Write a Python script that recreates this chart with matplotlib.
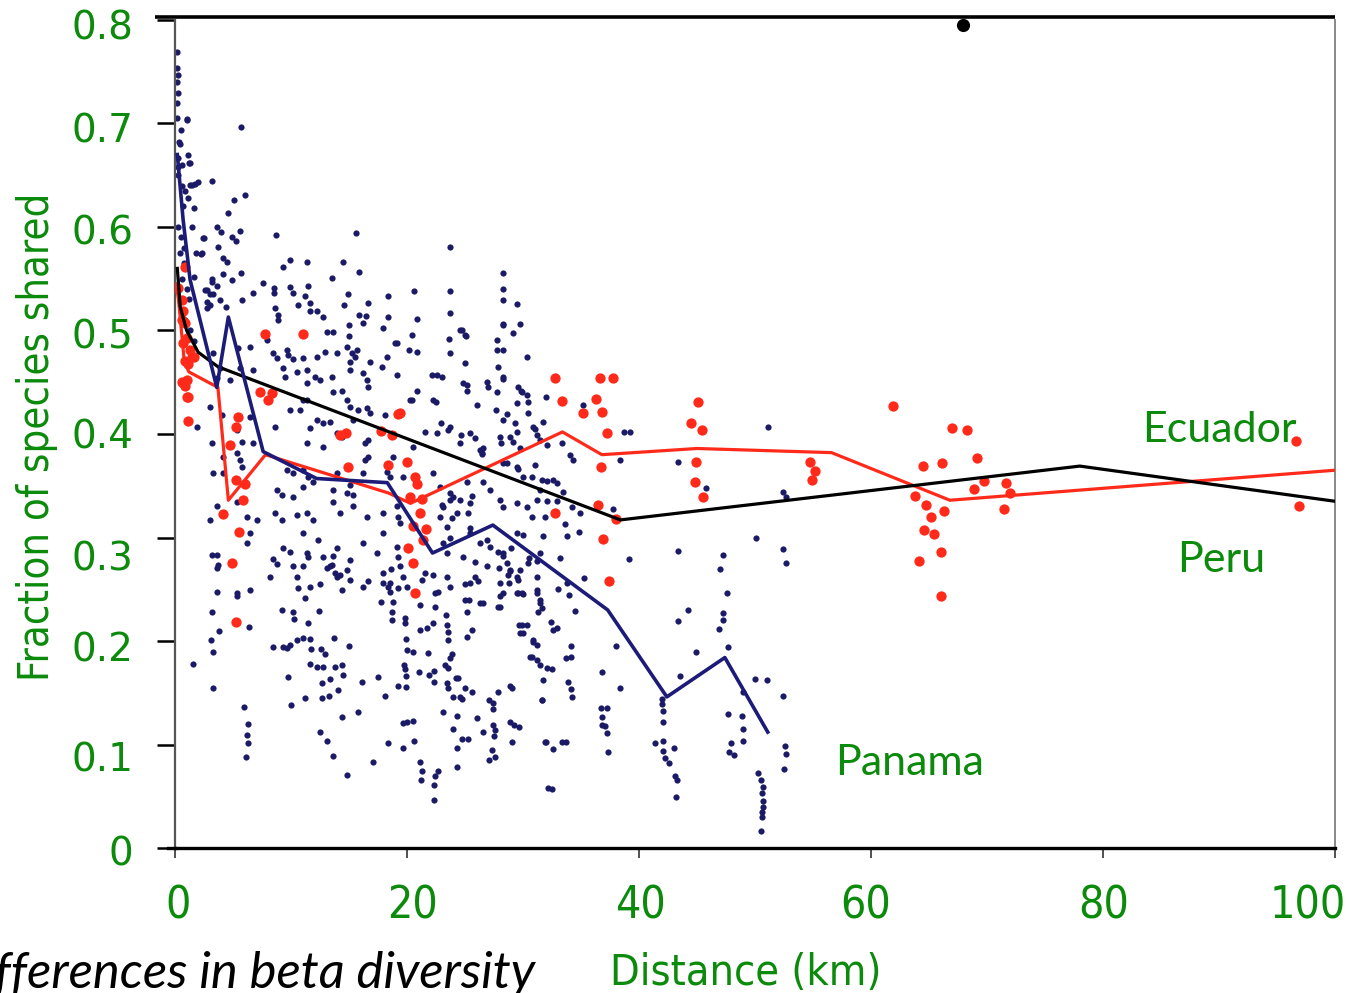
import numpy as np
import matplotlib.pyplot as plt
from matplotlib import transforms

GREEN = '#0b8a0b'
NAVY = '#1c1c78'
DOT = '#1a1a66'
RED = '#ff2a1a'

# mean curves (distance km, fraction shared)
black_x = [0.2, 0.45, 1.0, 2.0, 3.7, 38.4, 78.0, 100.0]
black_y = [0.56, 0.523, 0.50, 0.479, 0.465, 0.317, 0.369, 0.335]

red_x = [0.1, 0.3, 0.8, 1.2, 3.7, 4.6, 7.8, 18.4, 20.3, 33.4, 36.8, 45.0, 56.6, 66.8, 100.0]
red_y = [0.545, 0.53, 0.47, 0.46, 0.445, 0.336, 0.380, 0.343, 0.333, 0.402, 0.380, 0.386, 0.382, 0.336, 0.365]

blue_x = [0.2, 0.7, 1.3, 3.6, 4.6, 7.6, 12.2, 18.3, 22.2, 27.4, 37.3, 42.4, 47.4, 51.1]
blue_y = [0.67, 0.607, 0.549, 0.445, 0.513, 0.383, 0.357, 0.353, 0.285, 0.312, 0.230, 0.146, 0.184, 0.112]

# Ecuador / Peru site pairs (red)
red_pts = [
    (32.8, 0.454), (36.6, 0.454), (37.8, 0.454), (33.4, 0.432), (36.3, 0.434), (35.2, 0.420),
    (36.8, 0.421), (37.2, 0.401), (45.1, 0.431), (44.5, 0.411), (45.4, 0.404), (44.9, 0.373),
    (44.8, 0.354), (45.5, 0.339), (36.7, 0.368), (36.5, 0.331), (32.8, 0.324), (38.0, 0.318),
    (36.9, 0.299), (37.4, 0.258), (54.7, 0.373), (55.2, 0.364), (54.9, 0.356),
    (19.4, 0.420), (20.0, 0.373), (20.7, 0.358), (20.9, 0.352), (20.3, 0.339), (21.3, 0.337),
    (21.1, 0.324), (20.5, 0.311), (21.6, 0.308), (21.4, 0.298), (20.1, 0.290), (20.5, 0.275),
    (20.7, 0.246),
    (61.9, 0.427), (67.0, 0.406), (68.3, 0.404), (64.5, 0.369), (66.1, 0.372), (69.1, 0.377),
    (69.7, 0.355), (68.9, 0.347), (71.6, 0.353), (72.0, 0.343), (71.5, 0.328), (63.8, 0.340),
    (64.7, 0.331), (66.3, 0.326), (65.2, 0.320), (64.6, 0.307), (65.4, 0.303), (66.0, 0.286),
    (64.1, 0.277), (66.0, 0.243), (96.6, 0.393), (96.9, 0.330),
    (7.8, 0.497), (11.0, 0.497), (7.3, 0.441), (8.0, 0.433), (8.4, 0.440), (19.2, 0.419),
    (14.2, 0.399), (14.7, 0.401), (17.8, 0.403), (18.7, 0.399), (14.9, 0.368), (18.4, 0.370),
    (5.4, 0.416), (5.3, 0.407), (4.7, 0.389), (5.3, 0.356), (6.0, 0.352), (5.9, 0.336),
    (4.1, 0.323), (5.5, 0.305), (4.9, 0.275), (5.3, 0.218),
    (1.1, 0.413), (1.0, 0.436), (0.7, 0.449), (1.0, 0.452), (1.1, 0.468), (1.5, 0.474),
    (0.7, 0.488), (0.6, 0.510), (0.3, 0.541), (0.6, 0.529), (0.7, 0.519), (0.9, 0.507),
    (1.0, 0.493), (1.3, 0.481), (0.9, 0.471), (1.6, 0.474), (0.6, 0.450), (0.9, 0.446),
    (1.1, 0.436), (0.9, 0.561),
]

# Panama site pairs (navy), upper part
panama_top = [
    (0.2, 0.769), (0.2, 0.754), (0.3, 0.747), (0.3, 0.729), (0.2, 0.705), (1.0, 0.703), (0.5, 0.694),
    (0.35, 0.682), (0.3, 0.667), (1.1, 0.670), (1.2, 0.662), (0.3, 0.658), (1.7, 0.642), (1.3, 0.641),
    (3.2, 0.644), (1.1, 0.628), (1.6, 0.618), (5.1, 0.626), (6.0, 0.631), (5.7, 0.697), (4.6, 0.614),
    (1.5, 0.600), (3.6, 0.600), (4.0, 0.595), (2.4, 0.589), (4.9, 0.590), (5.3, 0.586), (5.6, 0.596),
    (3.7, 0.581), (8.7, 0.592), (15.6, 0.594), (2.3, 0.575), (4.1, 0.570), (4.5, 0.566), (9.9, 0.568),
    (11.4, 0.566), (14.5, 0.566), (9.3, 0.561), (15.9, 0.557), (13.5, 0.551), (23.7, 0.581),
    (28.3, 0.556), (1.6, 0.552), (4.1, 0.555), (5.7, 0.556), (4.9, 0.549), (3.2, 0.547), (3.6, 0.543),
    (7.6, 0.546), (2.8, 0.539), (3.3, 0.535), (6.7, 0.536), (8.5, 0.541), (8.5, 0.536), (9.9, 0.542),
    (10.2, 0.536), (11.5, 0.543), (11.2, 0.533), (14.9, 0.535), (18.4, 0.533), (20.6, 0.538),
    (23.7, 0.538), (28.3, 0.540), (5.8, 0.529), (2.8, 0.528), (3.0, 0.525), (3.9, 0.529), (10.6, 0.525),
    (11.6, 0.527), (11.6, 0.519), (12.2, 0.519), (12.8, 0.513), (8.6, 0.522), (8.9, 0.515), (8.9, 0.510),
    (14.6, 0.525), (16.6, 0.527), (15.9, 0.515), (16.2, 0.507), (16.5, 0.514), (18.4, 0.513),
    (20.9, 0.511), (15.0, 0.505), (23.7, 0.517), (28.3, 0.529), (29.5, 0.526), (28.3, 0.506),
    (29.1, 0.498), (29.7, 0.506), (24.6, 0.500), (25.0, 0.496), (17.9, 0.502), (20.4, 0.496),
    (13.1, 0.499), (13.6, 0.499), (15.0, 0.495), (7.9, 0.491), (19.0, 0.488), (23.6, 0.492),
    (27.8, 0.491),
    (1.0, 0.704), (1.3, 0.662), (1.5, 0.641), (2.0, 0.643), (1.8, 0.575), (2.2, 0.574), (2.5, 0.589),
    (3.2, 0.550), (2.6, 0.539), (3.0, 0.535), (2.8, 0.522), (4.4, 0.523), (0.3, 0.60), (0.5, 0.59),
    (0.4, 0.575), (0.8, 0.565), (0.6, 0.55), (1.0, 0.54), (0.5, 0.52), (0.9, 0.51), (1.3, 0.50),
    (1.6, 0.49), (0.7, 0.62), (0.9, 0.635), (0.3, 0.65), (0.6, 0.64), (0.4, 0.68), (0.2, 0.72),
    (0.6, 0.66), (0.2, 0.74), (0.8, 0.58), (1.2, 0.53),
]

# Panama, middle band
panama_mid = [
    (3.28, 0.478), (3.88, 0.464), (5.43, 0.483), (6.47, 0.484), (8.45, 0.478), (8.79, 0.473),
    (9.66, 0.481), (9.74, 0.476), (10.17, 0.472), (11.03, 0.473), (12.24, 0.474), (12.93, 0.479),
    (13.97, 0.478), (14.83, 0.484), (15.26, 0.478), (15.09, 0.470), (15.69, 0.481), (15.52, 0.474),
    (16.81, 0.470), (18.28, 0.474), (19.14, 0.488), (20.86, 0.479), (23.71, 0.478), (25.0, 0.469),
    (27.84, 0.465), (28.28, 0.481), (30.34, 0.474),
    (3.62, 0.454), (4.74, 0.452), (5.6, 0.464), (6.72, 0.462), (9.31, 0.464), (9.48, 0.455),
    (10.52, 0.460), (11.38, 0.462), (12.07, 0.455), (12.5, 0.452), (13.53, 0.455), (15.09, 0.462),
    (16.21, 0.459), (16.55, 0.452), (17.84, 0.465), (19.14, 0.457), (22.59, 0.457), (24.83, 0.449),
    (25.17, 0.442), (26.9, 0.450), (28.28, 0.455), (29.57, 0.445), (29.91, 0.441), (30.34, 0.438),
    (11.38, 0.449), (13.62, 0.441), (14.4, 0.442), (16.64, 0.445), (20.86, 0.442), (20.26, 0.433),
    (3.02, 0.426), (1.9, 0.407), (4.05, 0.418), (5.34, 0.404), (5.78, 0.392), (6.47, 0.416),
    (6.72, 0.391), (3.19, 0.391), (8.62, 0.407), (9.91, 0.423), (10.78, 0.423), (11.03, 0.433),
    (11.38, 0.433), (12.24, 0.414), (12.76, 0.411), (13.36, 0.412), (11.64, 0.406), (14.83, 0.433),
    (15.09, 0.426), (15.78, 0.423), (16.55, 0.425), (16.81, 0.420), (18.1, 0.418), (13.97, 0.401),
    (14.4, 0.397), (15.34, 0.414), (11.38, 0.391), (12.76, 0.387), (16.38, 0.391), (16.64, 0.394),
    (20.52, 0.387), (22.59, 0.401), (23.71, 0.407), (25.43, 0.401), (25.86, 0.396), (28.02, 0.397),
    (28.28, 0.414), (29.48, 0.402), (30.86, 0.407), (31.47, 0.394), (26.55, 0.386),
    (3.28, 0.362), (4.14, 0.362), (5.34, 0.382), (5.6, 0.375), (5.78, 0.368), (4.14, 0.378),
    (9.66, 0.365), (10.17, 0.362), (11.03, 0.365), (11.47, 0.358), (11.9, 0.354), (13.97, 0.362),
    (15.09, 0.351), (16.21, 0.362), (16.38, 0.375), (16.64, 0.378), (18.28, 0.363), (18.53, 0.358),
    (18.79, 0.378), (19.66, 0.358), (22.24, 0.362), (22.84, 0.349), (23.71, 0.343), (23.97, 0.339),
    (25.17, 0.354), (26.47, 0.382), (28.28, 0.372), (29.48, 0.368), (30.0, 0.358), (31.03, 0.370),
    (8.79, 0.346), (9.22, 0.341), (10.17, 0.339), (11.03, 0.349), (13.62, 0.346), (14.83, 0.343),
    (15.34, 0.341),
    (3.62, 0.330), (3.02, 0.317), (4.14, 0.324), (5.34, 0.334), (6.21, 0.320), (7.07, 0.317),
    (8.62, 0.324), (9.22, 0.317), (10.52, 0.322), (11.38, 0.324), (11.9, 0.317), (13.62, 0.334),
    (14.22, 0.324), (15.34, 0.330), (16.55, 0.320), (17.93, 0.324), (19.14, 0.330), (19.22, 0.320),
    (19.4, 0.314), (23.02, 0.331), (23.71, 0.336), (24.31, 0.324), (25.43, 0.333), (25.26, 0.324),
    (28.02, 0.336), (28.28, 0.329), (29.48, 0.333), (30.34, 0.329), (31.21, 0.336),
    (6.21, 0.295), (6.47, 0.304), (9.31, 0.290), (9.91, 0.286), (11.03, 0.304), (11.38, 0.285),
    (12.33, 0.298), (12.76, 0.281), (13.97, 0.290), (15.09, 0.278), (16.21, 0.295), (17.41, 0.285),
    (17.93, 0.304), (19.14, 0.291), (19.22, 0.281), (19.4, 0.272), (23.1, 0.295), (23.45, 0.285),
    (24.83, 0.281), (25.43, 0.304), (26.9, 0.298), (27.16, 0.291), (28.28, 0.285), (28.62, 0.275),
    (29.48, 0.304), (31.47, 0.285),
    (3.62, 0.271), (5.34, 0.246), (6.47, 0.249), (8.19, 0.262), (10.17, 0.272), (10.52, 0.262),
    (11.64, 0.252), (13.36, 0.272), (13.79, 0.266), (15.09, 0.259), (16.21, 0.252), (17.93, 0.266),
    (18.53, 0.256), (19.66, 0.262), (20.0, 0.252), (23.45, 0.262), (23.71, 0.252), (25.43, 0.256),
    (26.9, 0.272), (28.02, 0.256), (28.28, 0.246), (29.48, 0.262), (31.21, 0.249),
    (28.28, 0.505), (27.76, 0.481), (20.17, 0.481), (24.74, 0.500), (25.09, 0.495), (22.16, 0.457),
    (23.02, 0.455), (25.17, 0.447), (26.98, 0.445), (28.28, 0.453), (20.43, 0.433), (22.24, 0.433),
    (22.5, 0.431), (27.76, 0.441), (29.83, 0.442), (30.43, 0.431), (30.43, 0.420), (29.48, 0.430),
    (26.03, 0.428), (28.62, 0.419), (29.31, 0.411), (27.67, 0.423), (32.0, 0.436), (31.7, 0.412),
    (35.2, 0.428), (21.55, 0.402), (22.93, 0.411), (23.53, 0.404), (24.66, 0.399), (24.57, 0.391),
    (26.29, 0.385), (26.47, 0.381), (28.1, 0.391), (28.88, 0.397), (29.14, 0.392), (29.74, 0.386),
    (31.03, 0.405), (31.21, 0.399), (32.07, 0.389), (33.4, 0.391), (34.05, 0.380), (34.31, 0.375),
    (38.7, 0.402), (39.2, 0.402), (38.4, 0.375), (43.4, 0.373), (51.1, 0.407), (45.8, 0.348),
    (52.4, 0.344), (52.7, 0.339),
    (29.57, 0.366), (28.62, 0.372), (30.78, 0.358), (31.64, 0.356), (32.07, 0.355), (32.59, 0.356),
    (32.93, 0.353), (31.47, 0.346), (32.07, 0.335), (32.93, 0.335), (33.45, 0.344), (34.22, 0.329),
    (34.91, 0.324), (33.62, 0.313), (34.83, 0.305), (37.8, 0.328), (30.0, 0.302), (31.72, 0.301),
    (33.79, 0.301), (25.43, 0.309), (23.71, 0.300), (26.29, 0.295), (28.97, 0.290), (30.78, 0.320),
    (31.9, 0.320), (26.55, 0.354), (27.16, 0.346), (25.6, 0.340), (24.57, 0.336), (23.1, 0.329),
    (22.84, 0.320), (23.88, 0.319), (23.45, 0.310), (39.1, 0.279), (43.4, 0.287), (47.2, 0.283),
    (50.1, 0.300), (52.4, 0.289), (52.7, 0.275), (47.0, 0.270), (47.6, 0.246), (27.84, 0.286),
    (25.86, 0.276), (33.19, 0.280), (30.52, 0.280), (31.21, 0.277), (28.71, 0.264), (29.57, 0.259),
]

# Panama, lower band
panama_low = [
    (3.19, 0.283), (3.62, 0.283), (3.71, 0.273), (3.62, 0.247), (5.34, 0.243), (3.19, 0.228),
    (3.79, 0.210), (3.1, 0.201), (3.28, 0.189), (6.38, 0.214), (1.55, 0.178), (3.28, 0.155),
    (5.95, 0.136), (6.29, 0.120), (6.21, 0.109), (6.29, 0.101), (6.12, 0.088),
    (8.45, 0.279), (8.79, 0.274), (11.03, 0.272), (13.1, 0.271), (13.53, 0.273), (13.62, 0.282),
    (11.47, 0.281), (14.83, 0.269), (13.97, 0.262), (14.22, 0.264), (12.5, 0.255), (10.6, 0.251),
    (11.21, 0.242), (14.4, 0.249), (16.64, 0.258), (9.22, 0.230), (10.17, 0.228), (10.26, 0.221),
    (12.41, 0.229), (11.47, 0.217),
    (8.45, 0.194), (9.31, 0.194), (9.91, 0.196), (10.52, 0.201), (11.03, 0.203), (11.64, 0.202),
    (9.66, 0.193), (13.71, 0.203), (15.0, 0.195), (11.72, 0.192), (12.59, 0.192), (12.93, 0.187),
    (11.64, 0.178), (12.24, 0.175), (12.76, 0.175), (13.79, 0.175), (14.4, 0.177), (14.48, 0.167),
    (9.74, 0.165), (13.36, 0.163), (12.67, 0.159), (10.0, 0.138), (11.21, 0.145), (12.67, 0.145),
    (13.28, 0.147), (14.05, 0.153), (14.4, 0.127), (15.78, 0.131), (12.5, 0.112), (13.1, 0.103),
    (13.62, 0.089), (14.83, 0.071),
    (16.12, 0.160), (17.5, 0.165), (18.1, 0.147), (19.22, 0.157), (19.91, 0.156), (19.66, 0.121),
    (20.0, 0.122), (20.52, 0.123), (18.36, 0.101), (19.66, 0.097), (20.6, 0.103), (21.12, 0.083),
    (21.29, 0.074), (21.21, 0.066), (22.67, 0.074), (22.41, 0.070), (22.33, 0.061), (22.33, 0.046),
    (17.07, 0.083),
    (17.93, 0.256), (18.36, 0.252), (18.62, 0.270), (18.53, 0.247), (19.22, 0.251), (17.76, 0.238),
    (18.79, 0.238), (18.71, 0.228), (18.71, 0.220), (19.83, 0.222), (19.83, 0.217), (19.91, 0.202),
    (20.0, 0.191), (20.52, 0.189), (19.74, 0.177), (19.83, 0.173), (19.91, 0.166), (21.03, 0.170),
    (21.81, 0.188), (21.12, 0.211), (21.72, 0.213), (21.12, 0.235), (21.55, 0.266), (22.24, 0.264),
    (22.41, 0.246), (21.29, 0.259), (22.41, 0.233), (22.67, 0.247), (22.24, 0.217), (21.9, 0.167),
    (22.33, 0.171), (22.33, 0.160), (23.1, 0.131),
    (23.36, 0.225), (23.45, 0.215), (23.53, 0.209), (23.53, 0.201), (23.88, 0.187), (23.71, 0.184),
    (23.28, 0.177), (23.53, 0.174), (23.45, 0.159), (23.53, 0.155), (23.97, 0.146), (24.22, 0.164),
    (24.4, 0.164), (24.31, 0.128), (24.57, 0.146), (24.74, 0.144), (23.97, 0.115), (24.74, 0.105),
    (25.26, 0.105), (24.31, 0.097), (24.31, 0.078), (25.0, 0.155), (25.6, 0.151), (26.03, 0.126),
    (26.55, 0.112), (27.07, 0.143), (27.41, 0.140), (27.41, 0.134), (27.84, 0.151), (27.41, 0.119),
    (27.59, 0.114), (27.5, 0.108), (27.33, 0.095), (27.59, 0.088), (27.07, 0.085), (28.88, 0.157),
    (29.05, 0.155), (28.88, 0.122), (29.22, 0.119), (29.66, 0.117), (29.05, 0.102),
    (25.6, 0.211), (25.17, 0.204), (25.0, 0.240), (25.34, 0.240), (25.17, 0.228), (25.0, 0.255),
    (25.86, 0.262), (26.12, 0.258), (26.29, 0.237), (26.55, 0.237), (28.02, 0.243), (27.84, 0.233),
    (27.93, 0.271), (28.28, 0.282), (28.88, 0.269), (28.79, 0.256), (29.48, 0.246), (29.91, 0.246),
    (31.21, 0.246), (29.66, 0.215), (30.34, 0.215), (30.86, 0.201), (31.21, 0.196), (30.6, 0.185),
    (31.21, 0.182), (31.47, 0.177), (30.0, 0.208), (31.64, 0.232), (31.29, 0.228), (31.47, 0.240),
    (32.07, 0.174), (31.64, 0.143), (31.9, 0.102), (32.16, 0.058),
    (35.3, 0.261), (34.0, 0.244), (34.5, 0.229), (44.2, 0.230), (43.4, 0.219), (47.2, 0.227),
    (47.2, 0.220), (46.9, 0.212), (47.7, 0.194), (44.9, 0.189), (38.0, 0.195), (36.8, 0.170),
    (38.4, 0.155), (43.5, 0.166), (42.0, 0.144), (42.0, 0.139), (42.1, 0.132), (42.1, 0.122),
    (50.0, 0.163), (51.0, 0.162), (52.4, 0.147), (49.0, 0.151), (47.7, 0.129), (48.9, 0.128),
    (49.0, 0.115), (49.0, 0.103), (47.9, 0.101), (47.8, 0.093), (48.2, 0.090), (36.7, 0.135),
    (37.2, 0.135), (36.8, 0.127), (36.8, 0.119), (37.1, 0.118), (37.2, 0.111), (37.3, 0.093),
    (41.4, 0.101), (42.1, 0.103), (42.1, 0.094), (42.2, 0.087), (43.0, 0.097), (42.6, 0.082),
    (43.1, 0.070), (43.3, 0.066), (43.2, 0.049), (50.3, 0.072), (50.5, 0.066), (50.7, 0.059),
    (50.6, 0.053), (50.7, 0.045), (50.7, 0.040), (50.6, 0.035), (50.6, 0.030), (50.5, 0.016),
    (52.6, 0.099), (52.7, 0.091), (52.5, 0.076), (32.5, 0.057), (32.6, 0.096), (32.0, 0.102),
    (33.4, 0.102), (33.7, 0.102), (34.1, 0.154), (34.2, 0.146), (33.9, 0.160), (31.7, 0.162),
    (31.6, 0.143), (32.5, 0.173), (30.8, 0.185), (30.9, 0.199), (32.4, 0.218), (32.6, 0.211),
    (32.9, 0.213), (34.1, 0.195), (34.1, 0.185), (33.7, 0.184), (29.9, 0.215), (29.7, 0.208),
    (31.5, 0.237), (29.7, 0.269), (30.4, 0.275), (31.2, 0.262), (33.0, 0.250), (33.8, 0.256),
    (28.0, 0.233), (28.9, 0.268), (29.6, 0.246), (30.0, 0.245),
]

# stray ink blot on the scan
blot = (67.9, 0.795)

xticks = [0, 20, 40, 60, 80, 100]
yticks = [0, 0.1, 0.2, 0.3, 0.4, 0.5, 0.6, 0.7, 0.8]
ytick_labels = ['0', '0.1', '0.2', '0.3', '0.4', '0.5', '0.6', '0.7', '0.8']

fig = plt.figure(figsize=(13.51, 9.93), dpi=100)
ax = fig.add_axes([175 / 1351, 145 / 993, 1160 / 1351, 828 / 993])

pan = np.array(panama_top + panama_mid + panama_low)
ax.scatter(pan[:, 0], pan[:, 1], s=20, color=DOT, linewidths=0, zorder=2)
rp = np.array(red_pts)
ax.scatter(rp[:, 0], rp[:, 1], s=55, color=RED, linewidths=0, zorder=3)

ax.plot(red_x, red_y, color=RED, lw=2.3, zorder=4)
ax.plot(black_x, black_y, color='black', lw=2.3, zorder=5)
ax.plot(blue_x, blue_y, color=NAVY, lw=2.6, zorder=6)
ax.scatter([blot[0]], [blot[1]], s=90, color='black', linewidths=0, clip_on=False, zorder=7)

ax.set_xlim(0, 100)
ax.set_ylim(0, 0.8)

ax.spines['top'].set_visible(False)
ax.spines['left'].set_color('#555555')
ax.spines['left'].set_linewidth(1.6)
ax.spines['right'].set_color('#888888')
ax.spines['right'].set_linewidth(1.4)
ax.spines['bottom'].set_color('black')
ax.spines['bottom'].set_linewidth(2.4)
ax.plot([-0.017, 1.0], [1.004, 1.004], transform=ax.transAxes, color='black',
        lw=2.6, clip_on=False, solid_capstyle='butt')
ax.plot([-0.006, 0.0], [0.0, 0.0], transform=ax.transAxes, color='black',
        lw=2.4, clip_on=False)

ax.set_yticks(yticks)
ax.set_yticklabels(ytick_labels)
ax.tick_params(axis='y', direction='out', length=13, width=1.8, pad=17,
               labelsize=28, labelcolor=GREEN, color='black')
ax.set_xticks(xticks)
ax.set_xticklabels([str(v) for v in xticks])
ax.tick_params(axis='x', direction='out', length=7, width=1.2, pad=19,
               labelsize=32, labelcolor=GREEN, color='#333333')
for lab in ax.get_xticklabels():
    lab.set_fontstretch('condensed')

# nudge labels to where they sit in the scan (pixels)
x_shift = [3, 5, 1, -5, 1, -27]
for lab, dx in zip(ax.get_xticklabels(), x_shift):
    lab.set_transform(lab.get_transform() + transforms.Affine2D().translate(dx, 0))
y_shift = [-2, -12, -5, -18, 0, -3, -3, -4, -5]
for lab, dy in zip(ax.get_yticklabels(), y_shift):
    lab.set_transform(lab.get_transform() + transforms.Affine2D().translate(0, dy))

fig.text(37 / 1351, 1 - 437 / 993, 'Fraction of species shared', rotation=90,
         ha='center', va='center', fontsize=30, color=GREEN, fontstretch='condensed')
fig.text(746 / 1351, 1 - 985 / 993, 'Distance (km)', ha='center', va='baseline',
         fontsize=31, color=GREEN, fontstretch='condensed')

ax.text(83.4, 0.392, 'Ecuador', fontsize=31, color=GREEN, family='Lato', va='baseline')
ax.text(86.4, 0.267, 'Peru', fontsize=31, color=GREEN, family='Lato', va='baseline')
ax.text(56.9, 0.0705, 'Panama', fontsize=31, color=GREEN, family='Lato', va='baseline')

fig.text(535 / 1351, 1 - 988 / 993, 'Differences in beta diversity', ha='right',
         va='baseline', fontsize=36.5, style='italic', family='Lato', color='black')

fig.savefig('out.png', dpi=100)
